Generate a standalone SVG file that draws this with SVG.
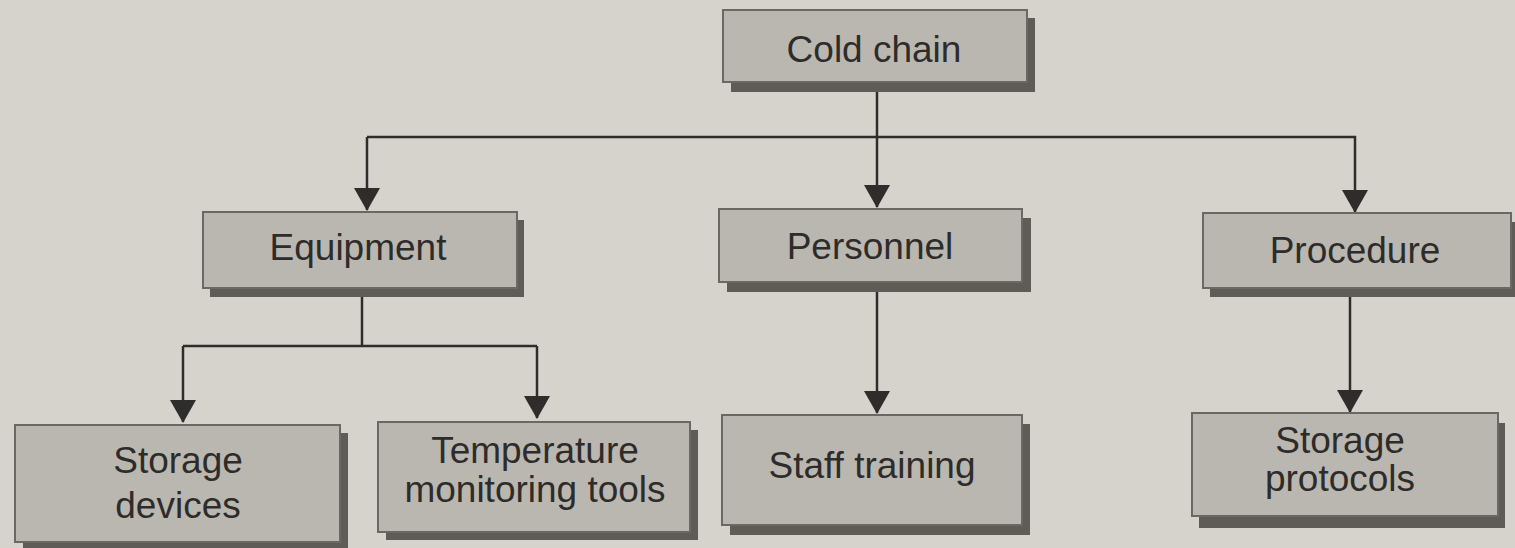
<svg xmlns="http://www.w3.org/2000/svg" width="1515" height="548" viewBox="0 0 1515 548">
<defs>
<marker id="arrd" markerUnits="userSpaceOnUse" markerWidth="28" markerHeight="24" viewBox="0 0 28 24" refX="14" refY="22" orient="0">
<path d="M1,0 L27,0 L14,23 Z" fill="#2f2d2b"/>
</marker>
</defs>
<style>
.sh{fill:#5f5c58}
.bx{fill:#bab7b1;stroke:#6b6864;stroke-width:2}
.t{font-family:"Liberation Sans",Arial,sans-serif;font-size:37px;fill:#2e2c2a;text-anchor:middle}
.ln{fill:none;stroke:#2f2d2b;stroke-width:2.5}
</style>
<rect x="0" y="0" width="1515" height="548" fill="#d6d3cd"/>
<g id="connectors">
<path class="ln" d="M877,92 V137"/>
<path class="ln" d="M367,137 H1355 V212" marker-end="url(#arrd)"/>
<path class="ln" d="M877,137 V207" marker-end="url(#arrd)"/>
<path class="ln" d="M367,137 V210" marker-end="url(#arrd)"/>
<path class="ln" d="M362,297 V346"/>
<path class="ln" d="M183,346 H537"/>
<path class="ln" d="M183,346 V422" marker-end="url(#arrd)"/>
<path class="ln" d="M537,346 V418" marker-end="url(#arrd)"/>
<path class="ln" d="M877,292 V413" marker-end="url(#arrd)"/>
<path class="ln" d="M1350,297 V412" marker-end="url(#arrd)"/>
</g>
<g id="cold-chain">
<rect class="sh" x="731" y="18" width="304" height="74"/>
<rect class="bx" x="723" y="10" width="304" height="72"/>
<text class="t" x="874" y="62">Cold chain</text>
</g>
<g id="equipment">
<rect class="sh" x="210" y="220" width="314" height="77"/>
<rect class="bx" x="203" y="212" width="314" height="76"/>
<text class="t" x="358" y="260">Equipment</text>
</g>
<g id="personnel">
<rect class="sh" x="727" y="218" width="304" height="74"/>
<rect class="bx" x="719" y="209" width="303" height="73"/>
<text class="t" x="870" y="259">Personnel</text>
</g>
<g id="procedure">
<rect class="sh" x="1210" y="222" width="305" height="75"/>
<rect class="bx" x="1203" y="213" width="308" height="75"/>
<text class="t" x="1355" y="263">Procedure</text>
</g>
<g id="storage-devices">
<rect class="sh" x="23" y="433" width="325" height="117"/>
<rect class="bx" x="15" y="425" width="325" height="117"/>
<text class="t" x="178" y="473">Storage</text>
<text class="t" x="178" y="518">devices</text>
</g>
<g id="temperature-monitoring-tools">
<rect class="sh" x="386" y="430" width="312" height="110"/>
<rect class="bx" x="378" y="422" width="312" height="110"/>
<text class="t" x="535" y="463">Temperature</text>
<text class="t" x="535" y="502">monitoring tools</text>
</g>
<g id="staff-training">
<rect class="sh" x="730" y="424" width="300" height="111"/>
<rect class="bx" x="722" y="415" width="300" height="110"/>
<text class="t" x="872" y="478">Staff training</text>
</g>
<g id="storage-protocols">
<rect class="sh" x="1199" y="423" width="306" height="105"/>
<rect class="bx" x="1192" y="413" width="306" height="103"/>
<text class="t" x="1340" y="453">Storage</text>
<text class="t" x="1340" y="491">protocols</text>
</g>
</svg>
